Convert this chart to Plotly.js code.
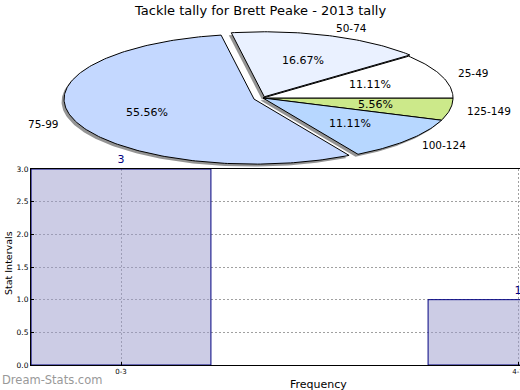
<!DOCTYPE html>
<html><head><meta charset="utf-8">
<script src="https://cdn.plot.ly/plotly-3.0.1.min.js"></script>
<style>html,body{margin:0;padding:0;background:#fff}</style>
</head><body><div id="chart" style="width:520px;height:390px"></div>
<script>
// ---- data ----
const chartTitle = 'Tackle tally for Brett Peake - 2013 tally';
const sliceLabels = ['125-149', '100-124', '75-99', '50-74', '25-49'];
const sliceCounts = [1, 2, 10, 3, 2];
const barCategories = ['0-3', '4-7'];
const barValues = [3, 1];
const yTickVals = [0, 0.5, 1.0, 1.5, 2.0, 2.5, 3.0];
const yTickText = ['0.0', '0.5', '1.0', '1.5', '2.0', '2.5', '3.0'];

// ---- styles / geometry ----
const sliceColors = ['#cce98a', '#b7d7ff', '#c4d8ff', '#eaf1ff', '#ffffff'];
const sliceExplode = [0, 0, 0.05, 0.02, 0];
const cx = 263, cy = 98, rx = 190, ry = 65;
const font = 'DejaVu Sans, sans-serif';

const total = sliceCounts.reduce((a, b) => a + b, 0);
const annotations = [];
const shadows = [];
const slices = [];
let start = 0;
sliceCounts.forEach((v, i) => {
  const span = v / total * 2 * Math.PI;
  const a0 = start, a1 = start + span, mid = (a0 + a1) / 2;
  start = a1;
  const ox = rx * sliceExplode[i] * Math.cos(mid);
  const oy = ry * sliceExplode[i] * Math.sin(mid);
  const xs = [cx + ox], ys = [cy + oy];
  const n = Math.max(4, Math.ceil(span / (Math.PI / 180)));
  for (let k = 0; k <= n; k++) {
    const t = a0 + span * k / n;
    xs.push(cx + ox + rx * Math.cos(t));
    ys.push(cy + oy + ry * Math.sin(t));
  }
  xs.push(cx + ox); ys.push(cy + oy);
  shadows.push({x: xs.map(x => x - 2.5), y: ys.map(y => y + 2.5), type: 'scatter', mode: 'lines',
    fill: 'toself', fillcolor: 'rgba(60,60,60,0.55)', line: {width: 0, color: 'rgba(0,0,0,0)'},
    xaxis: 'x2', yaxis: 'y2', hoverinfo: 'skip', showlegend: false});
  slices.push({x: xs, y: ys, type: 'scatter', mode: 'lines', fill: 'toself',
    fillcolor: sliceColors[i], line: {width: 1, color: '#000'},
    xaxis: 'x2', yaxis: 'y2', hoverinfo: 'skip', showlegend: false});
  annotations.push({xref: 'x2', yref: 'y2', x: cx + ox + 0.6 * rx * Math.cos(mid), y: cy + oy + 0.6 * ry * Math.sin(mid),
    text: (v / total * 100).toFixed(2) + '%', showarrow: false, font: {family: font, size: 11, color: '#000'},
    xanchor: 'center', yanchor: 'middle'});
  const lx = cx + ox + 1.08 * rx * Math.cos(mid), ly = cy + oy + 1.12 * ry * Math.sin(mid);
  annotations.push({xref: 'x2', yref: 'y2', x: lx, y: ly, text: sliceLabels[i], showarrow: false,
    font: {family: font, size: 10.5, color: '#000'}, xanchor: Math.cos(mid) >= 0 ? 'left' : 'right', yanchor: 'middle'});
});

const bar = {type: 'bar', x: barCategories, y: barValues, width: 0.453,
  marker: {color: 'rgba(153,153,203,0.5)', line: {color: '#000080', width: 1}},
  text: barValues.map(String), textposition: 'outside', cliponaxis: false,
  textfont: {family: font, size: 11, color: '#000080'}, hoverinfo: 'skip', showlegend: false,
  xaxis: 'x', yaxis: 'y'};

annotations.push({xref: 'paper', yref: 'paper', x: 0.5, y: 1 - 10 / 390, text: chartTitle, showarrow: false,
  font: {family: font, size: 13, color: '#000'}, xanchor: 'center', yanchor: 'middle'});
annotations.push({xref: 'paper', yref: 'paper', x: 318 / 520, y: 1 - 384 / 390, text: 'Frequency', showarrow: false,
  font: {family: font, size: 11, color: '#000'}, xanchor: 'center', yanchor: 'middle'});
annotations.push({xref: 'paper', yref: 'paper', x: 8 / 520, y: 1 - 263 / 390, text: 'Stat Intervals', showarrow: false,
  textangle: -90, font: {family: font, size: 9.5, color: '#000'}, xanchor: 'center', yanchor: 'middle'});
annotations.push({xref: 'paper', yref: 'paper', x: 0, y: 1 - 380 / 390, text: 'Dream-Stats.com', showarrow: false,
  font: {family: font, size: 11.5, color: '#999999'}, xanchor: 'left', yanchor: 'middle'});

const gridStyle = {showgrid: true, gridcolor: '#a0a0a0', griddash: '2px,2px', gridwidth: 1};
const layout = {
  width: 520, height: 390, margin: {l: 0, r: 0, t: 0, b: 0},
  paper_bgcolor: '#fff', plot_bgcolor: 'rgba(0,0,0,0)', showlegend: false,
  xaxis: Object.assign({domain: [31 / 520, 1], anchor: 'y', type: 'category', range: [-0.2267, 1.005],
    showline: true, linecolor: '#000', linewidth: 1, mirror: true, zeroline: false,
    ticks: 'inside', ticklen: 3, tickcolor: '#000', tickfont: {family: font, size: 7, color: '#000'}, fixedrange: true}, gridStyle),
  yaxis: Object.assign({domain: [1 - 365 / 390, 1 - 169 / 390], anchor: 'x', range: [0, 3],
    tickvals: yTickVals, ticktext: yTickText,
    showline: true, linecolor: '#000', linewidth: 1, mirror: true, zeroline: false,
    ticks: 'inside', ticklen: 3, tickcolor: '#000', tickfont: {family: font, size: 7.5, color: '#000'}, fixedrange: true}, gridStyle),
  xaxis2: {domain: [0, 1], anchor: 'y2', range: [0, 520], visible: false, fixedrange: true},
  yaxis2: {domain: [0, 1], anchor: 'x2', range: [390, 0], visible: false, fixedrange: true},
  annotations: annotations
};

Plotly.newPlot('chart', [bar].concat(shadows, slices), layout, {staticPlot: true, displayModeBar: false});
</script></body></html>
